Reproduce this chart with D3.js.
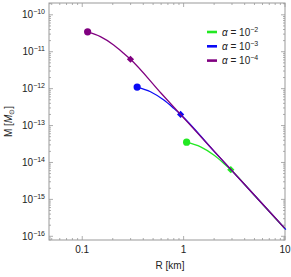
<!DOCTYPE html>
<html>
<head>
<meta charset="utf-8">
<script src="https://cdn.jsdelivr.net/npm/d3@7"></script>
<style>
  body { margin: 0; background: #fff; }
  svg text { font-family: "Liberation Sans", Arial, sans-serif; fill: #222; }
</style>
</head>
<body>
<div id="chart"></div>
<script>
// curves: radius R [km], mass M [Msun]
var alphaLabels = ["-2", "-3", "-4"];
var colours = ["#22e822", "#0a0af5", "#800080"];

var greenR = [1.07, 1.47, 2.0, 2.51, 2.92, 5.0, 10.0];
var greenM = [3.54e-14, 2.64e-14, 1.57e-14, 9.3e-15, 6.4e-15, 1.28e-15, 1.6e-16];

var blueR = [0.348, 0.471, 0.638, 0.80, 0.934, 2.0, 5.0, 10.2];
var blueM = [1.10e-12, 8.24e-13, 4.90e-13, 2.92e-13, 2.0e-13, 2.0e-14, 1.29e-15, 1.52e-16];

var purpleR = [0.113, 0.151, 0.204, 0.256, 0.299, 0.6, 1.5, 4.0, 9.9];
var purpleM = [3.45e-11, 2.57e-11, 1.53e-11, 9.1e-12, 6.25e-12, 7.5e-13, 4.8e-14, 2.53e-15, 1.67e-16];

// index of the point marked with the small diamond
var kneeIndex = [4, 4, 4];

var xTicks = [0.1, 1, 10];
var yTicks = [-16, -15, -14, -13, -12, -11, -10];

var width = 291, height = 277;
var margin = {top: 3, right: 6, bottom: 37, left: 49};

var svg = d3.select("#chart")
    .append("svg")
        .attr("width", width)
        .attr("height", height);

var w = width - margin.left - margin.right;
var h = height - margin.top - margin.bottom;

var g = svg.append("g")
    .attr("transform", "translate(" + margin.left + "," + margin.top + ")");

var x = d3.scaleLog().domain([0.047, 10]).range([0, w]);
var y = d3.scaleLog().domain([Math.pow(10, -16.1), Math.pow(10, -9.68)]).range([h, 0]);

// minor ticks
var xMinor = [];
[0.01, 0.1, 1].forEach(function(d){
    for (var k = 2; k <= 9; k++) {
        var v = d * k;
        if (v >= 0.047 && v <= 10) xMinor.push(v);
    }
});
var yMinor = [];
d3.range(-17, -9).forEach(function(e){
    for (var k = 2; k <= 9; k++) {
        var v = k * Math.pow(10, e);
        if (v >= y.domain()[0] && v <= y.domain()[1]) yMinor.push(v);
    }
});

var tickCol = "#999";
var ticks = g.append("g").attr("class", "ticks").style("stroke", tickCol).style("stroke-width", 0.8);

function xTickLines(vals, len) {
    vals.forEach(function(v){
        var px = x(v);
        ticks.append("line").attr("x1", px).attr("x2", px).attr("y1", h).attr("y2", h - len);
        ticks.append("line").attr("x1", px).attr("x2", px).attr("y1", 0).attr("y2", len);
    });
}
function yTickLines(vals, len) {
    vals.forEach(function(v){
        var py = y(v);
        ticks.append("line").attr("x1", 0).attr("x2", len).attr("y1", py).attr("y2", py);
        ticks.append("line").attr("x1", w).attr("x2", w - len).attr("y1", py).attr("y2", py);
    });
}
xTickLines(xTicks, 4);
xTickLines(xMinor, 2);
yTickLines(yTicks.map(function(e){ return Math.pow(10, e); }), 4);
yTickLines(yMinor, 2);

g.append("rect")
    .attr("width", w)
    .attr("height", h)
    .style("fill", "none")
    .style("stroke", tickCol)
    .style("stroke-width", 1);

// tick labels
g.append("g").selectAll("text")
    .data(xTicks)
    .enter()
    .append("text")
        .attr("x", function(d){ return x(d); })
        .attr("y", h + 13)
        .attr("text-anchor", "middle")
        .style("font-size", "10px")
        .text(function(d){ return d3.format("~g")(d); });

var yl = g.append("g").selectAll("text")
    .data(yTicks)
    .enter()
    .append("text")
        .attr("x", -4)
        .attr("y", function(d){ return y(Math.pow(10, d)) + 3.5; })
        .attr("text-anchor", "end")
        .style("font-size", "10px");
yl.append("tspan").text("10");
yl.append("tspan")
    .attr("dy", -4)
    .style("font-size", "7px")
    .text(function(d){ return "\u2212" + Math.abs(d); });

// axis titles
svg.append("text")
    .attr("x", margin.left + w / 2 + 3)
    .attr("y", 269)
    .attr("text-anchor", "middle")
    .style("font-size", "10px")
    .text("R [km]");

var ylab = svg.append("text")
    .attr("transform", "translate(12," + (margin.top + h / 2) + ") rotate(-90)")
    .attr("text-anchor", "middle")
    .style("font-size", "10px");
ylab.append("tspan").text("M [");
ylab.append("tspan").style("font-style", "italic").text("M");
ylab.append("tspan").attr("dy", 2).style("font-size", "7px").text("\u2299");
ylab.append("tspan").attr("dy", -2).text("]");

// curves
var series = [
    {R: greenR, M: greenM},
    {R: blueR, M: blueM},
    {R: purpleR, M: purpleM}
];

var line = d3.line()
    .x(function(d){ return x(d[0]); })
    .y(function(d){ return y(d[1]); })
    .curve(d3.curveMonotoneX);

var plot = g.append("g");
var knee = d3.symbol().type(d3.symbolSquare).size(26);

series.forEach(function(s, i){
    var pts = s.R.map(function(r, j){ return [r, s.M[j]]; });
    plot.append("path")
        .attr("d", line(pts))
        .style("fill", "none")
        .style("stroke", colours[i])
        .style("stroke-width", 1.3);
    plot.append("circle")
        .attr("cx", x(pts[0][0]))
        .attr("cy", y(pts[0][1]))
        .attr("r", 3.6)
        .style("fill", colours[i]);
    var k = pts[kneeIndex[i]];
    plot.append("path")
        .attr("d", knee)
        .attr("transform", "translate(" + x(k[0]) + "," + y(k[1]) + ") rotate(45)")
        .style("fill", colours[i]);
});

// legend
var legend = g.append("g")
    .attr("transform", "translate(" + (207 - margin.left) + "," + (32 - margin.top) + ")");

alphaLabels.forEach(function(a, i){
    var row = legend.append("g").attr("transform", "translate(0," + i * 14.3 + ")");
    row.append("line")
        .attr("x1", 0).attr("x2", 10)
        .style("stroke", colours[i])
        .style("stroke-width", 2.6);
    var t = row.append("text")
        .attr("x", 15)
        .attr("y", 3.5)
        .style("font-size", "10px");
    t.append("tspan").style("font-style", "italic").text("\u03b1");
    t.append("tspan").text(" = 10");
    t.append("tspan")
        .attr("dy", -4)
        .style("font-size", "7px")
        .text("\u2212" + a.slice(1));
});
</script>
</body>
</html>
